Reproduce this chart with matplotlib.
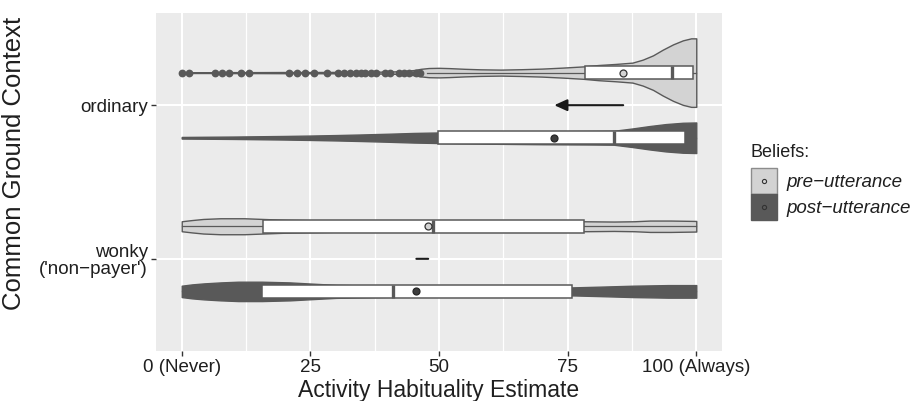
import matplotlib
matplotlib.use("Agg")
import matplotlib.pyplot as plt
import numpy as np
from matplotlib.patches import Patch, Rectangle
from matplotlib.lines import Line2D
from matplotlib.legend_handler import HandlerTuple, HandlerBase

plt.rcParams['font.family'] = ['Liberation Sans', 'DejaVu Sans']

# %% data

contexts = ["ordinary", "wonky\n('non−payer')"]
beliefs = ["pre−utterance", "post−utterance"]

# violin outlines (x, relative half width)
ord_pre_x = [0, 5, 10, 15, 20, 25, 30, 35, 40, 43, 45, 46.5, 48, 50, 52, 55, 58, 62, 66, 70,
             74, 78, 81, 84.4, 87.6, 89.6, 91.6, 93.5, 95.5, 97.4, 99, 100]
ord_pre_w = [0.4, 0.4, 0.5, 0.5, 0.6, 0.6, 0.7, 0.8, 1.0, 1.5, 2.5, 3.8, 4.6, 4.8, 4.5, 3.8, 3.3, 3.0, 3.4, 4.0,
             5.0, 6.2, 7.6, 8.7, 10, 13, 17.3, 23, 28.3, 32.3, 34.3, 34.3]

ord_post_x = [0, 5, 10, 15, 20, 25, 30, 35, 40, 45, 50, 60, 70, 80, 84, 87.6, 90.9, 94.1, 97.4, 100]
ord_post_w = [0.8, 1.0, 1.2, 1.5, 1.8, 2.2, 2.7, 3.3, 4.0, 4.8, 5.3, 6.0, 6.5, 6.8, 7.0, 9.3, 11.7, 13.7, 15, 15.3]

wonky_pre_x = [0, 2, 4.2, 7.5, 10, 12.2, 15.7, 20, 30, 40, 50, 60, 70, 78, 84, 88, 91, 95, 100]
wonky_pre_w = [5, 6.2, 7.3, 8, 8, 8, 7.3, 6.5, 5.5, 5.2, 5.2, 5, 4.8, 5, 4.7, 5.0, 5.7, 5.7, 5.3]

wonky_post_x = [0, 2, 4.3, 7.6, 11, 15.6, 21, 25.6, 30, 40, 50, 60, 70, 75.8, 81, 87.8, 94.5, 100]
wonky_post_w = [5.7, 7, 8, 9, 9.7, 9.7, 9, 7.7, 6.5, 5.5, 5, 4.5, 4.2, 4, 4.7, 5.7, 6.3, 6.3]

# box stats: lower whisker, q1, median, q3, upper whisker
ord_pre_box = [47.7, 78.4, 95.3, 99.3, 100]
ord_post_box = [0, 49.8, 84.1, 97.9, 100]
wonky_pre_box = [0, 15.7, 48.9, 78.1, 100]
wonky_post_box = [0, 15.6, 41.0, 75.8, 100]

means_pre = [85.8, 47.9]
means_post = [72.4, 45.6]

ord_pre_outliers = [0, 1.5, 6.4, 7.8, 9.1, 11.6, 13, 20.9, 22.4, 24.0, 25.7, 28.3, 30.4, 31.5,
                    32.8, 33.8, 34.8, 35.7, 36.7, 37.7, 39.5, 40.4, 42.2, 43.2, 44.2, 45.5, 46.4]

x_ticks = [0, 25, 50, 75, 100]
x_ticklabels = ["0 (Never)", "25", "50", "75", "100 (Always)"]

# %% styling

fill_pre = "#d3d3d3"
fill_post = "#595959"
edge = "#595959"
txt = "#1f1f1f"
dodge = 0.212
dens_scale = 0.223 / 34.3
box_half = 0.0436

fig = plt.figure(figsize=(9.15, 4.01), dpi=100)
ax = fig.add_axes([156 / 915, 1 - 351 / 401, 566 / 915, 338 / 401])
ax.set_facecolor("#EBEBEB")
for s in ax.spines.values():
    s.set_visible(False)

groups = [
    (0, -dodge, ord_pre_x, ord_pre_w, ord_pre_box, fill_pre),
    (0, dodge, ord_post_x, ord_post_w, ord_post_box, fill_post),
    (1, -dodge, wonky_pre_x, wonky_pre_w, wonky_pre_box, fill_pre),
    (1, dodge, wonky_post_x, wonky_post_w, wonky_post_box, fill_post),
]

for ci, off, vx, vw, box, fc in groups:
    yc = ci + off
    hw = np.array(vw) * dens_scale
    ax.fill_between(vx, yc - hw, yc + hw, facecolor=fc, edgecolor=edge, lw=1.0, zorder=2)
    lo, q1, med, q3, hi = box
    ax.plot([lo, q1], [yc, yc], color=edge, lw=0.9, zorder=3)
    ax.plot([q3, hi], [yc, yc], color=edge, lw=0.9, zorder=3)
    ax.add_patch(Rectangle((q1, yc - box_half), q3 - q1, 2 * box_half,
                           facecolor="white", edgecolor=edge, lw=1.1, zorder=3))
    ax.plot([med, med], [yc - box_half, yc + box_half], color=edge, lw=2.4,
            solid_capstyle="butt", zorder=4)

ax.plot(ord_pre_outliers, [0 - dodge] * len(ord_pre_outliers), "o", color=edge,
        ms=5.6, mec="none", zorder=4)

for ci in range(2):
    ax.plot(means_pre[ci], ci - dodge, "o", ms=5, mfc=fill_pre, mec="#333333", mew=0.9, zorder=5)
    ax.plot(means_post[ci], ci + dodge, "o", ms=5, mfc="#3d3d3d", mec="#262626", mew=0.9, zorder=5)
    shift = means_pre[ci] - means_post[ci]
    style = "-|>,head_length=0.55,head_width=0.25" if abs(shift) > 5 else "-"
    ax.annotate("", xy=(means_post[ci], ci), xytext=(means_pre[ci], ci),
                arrowprops=dict(arrowstyle=style, color="#1a1a1a", lw=1.5,
                                shrinkA=0, shrinkB=0, mutation_scale=14), zorder=6)

ax.set_xlim(-5, 105)
ax.set_ylim(1.6, -0.6)
ax.set_xticks(x_ticks)
ax.set_xticklabels(x_ticklabels)
ax.set_xticks([12.5, 37.5, 62.5, 87.5], minor=True)
ax.set_yticks([0, 1])
ax.set_yticklabels(contexts, multialignment="right", linespacing=1.05)
ax.set_axisbelow(True)
ax.grid(which="major", color="white", lw=1.5)
ax.grid(which="minor", axis="x", color="white", lw=0.9)
ax.tick_params(which="major", labelsize=13.5, labelcolor=txt, color="#333333",
               length=3.5, width=1, pad=2.5)
ax.tick_params(which="minor", length=0)

ax.set_xlabel("Activity Habituality Estimate", fontsize=16.5, color=txt, labelpad=2)
fig.text(14 / 915, 1 - 163 / 401, "Common Ground Context", rotation=90,
         ha="center", va="center", fontsize=18.5, color=txt)


# legend: marker centred in the key square
class CenteredMarker(HandlerBase):
    def create_artists(self, legend, orig_handle, xdescent, ydescent, width, height, fontsize, trans):
        m = Line2D([width / 2 - xdescent], [height / 2 - ydescent])
        self.update_prop(m, orig_handle, legend)
        m.set_transform(trans)
        return [m]


handles = [
    (Patch(facecolor=fill_pre, edgecolor="#8c8c8c", lw=1),
     Line2D([], [], ls="", marker="o", ms=3, mfc=fill_pre, mec="#333333", mew=0.8)),
    (Patch(facecolor=fill_post, edgecolor=fill_post, lw=1),
     Line2D([], [], ls="", marker="o", ms=3, mfc=fill_post, mec="#333333", mew=0.8)),
]
fig.text(751 / 915, 1 - 157 / 401, "Beliefs:", fontsize=13, color=txt, va="baseline")
fs_px = 13.5 * 100 / 72
fig.legend(handles, beliefs,
           handler_map={tuple: HandlerTuple(ndivide=1, pad=0), Line2D: CenteredMarker()},
           loc="upper left", bbox_to_anchor=(750.7 / 915, 1 - 167.7 / 401),
           frameon=False, borderpad=0, borderaxespad=0, labelspacing=0,
           handlelength=26 / fs_px, handleheight=(26 / fs_px - 0.245) / 0.65,
           handletextpad=10 / fs_px,
           prop={"style": "italic", "size": 13.5}, labelcolor=txt)

fig.savefig("out.png", dpi=100)
